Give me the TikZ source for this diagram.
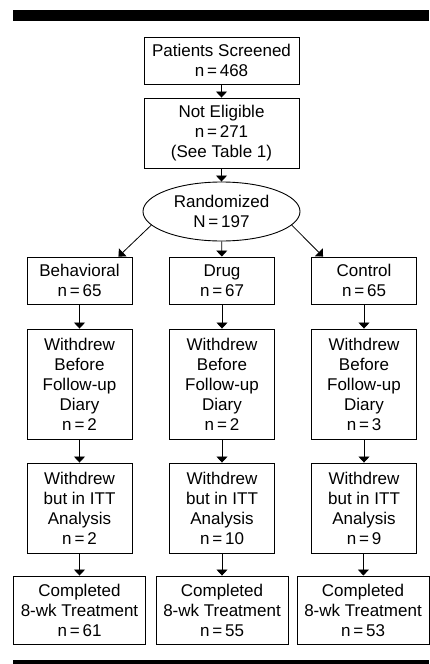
\documentclass[tikz,border=0pt]{standalone}
\usepackage{fontspec}
\setmainfont{Liberation Sans}
\usepackage{tikz}
\usetikzlibrary{shapes.geometric}
\usetikzlibrary{arrows.meta}

\begin{document}
\begin{tikzpicture}[x=1pt,y=-1pt,>={Triangle[length=6pt,width=11pt]},line width=0.9pt,
	box/.style={rectangle,draw,align=center,inner sep=0pt,font=\fontsize{17}{20}\selectfont},
	arm box/.style={box,minimum width=105},
	oval/.style={ellipse,draw,align=center,inner sep=0pt,font=\fontsize{17}{20}\selectfont}]
	
	\useasboundingbox (0,0) rectangle (429,664);
	\fill (13,10) rectangle (429,21);
	\fill (13,660) rectangle (429,664);
	
	\node[box,minimum width=155,minimum height=47] (scr) at (221.5,60.5) {Patients Screened\\n\,=\,468};
	\node[box,minimum width=155,minimum height=70] (inel) at (221.5,133) {Not Eligible\\n\,=\,271\\(See Table 1)};
	\node[oval,minimum width=157,minimum height=59] (rand) at (221.5,211.5) {Randomized\\N\,=\,197};
	
	\node[arm box,minimum height=47] (beh) at (79.5,280.5) {Behavioral\\n\,=\,65};
	\node[arm box,minimum height=47] (drug) at (222,280.5) {Drug\\n\,=\,67};
	\node[arm box,minimum height=47] (ctl) at (364,280.5) {Control\\n\,=\,65};
	
	\node[arm box,minimum height=110] (wb1) at (79.5,384) {Withdrew\\Before\\Follow-up\\Diary\\n\,=\,2};
	\node[arm box,minimum height=110] (wb2) at (222,384) {Withdrew\\Before\\Follow-up\\Diary\\n\,=\,2};
	\node[arm box,minimum height=110] (wb3) at (364,384) {Withdrew\\Before\\Follow-up\\Diary\\n\,=\,3};
	
	\node[arm box,minimum height=90] (itt1) at (79.5,508) {Withdrew\\but in ITT\\Analysis\\n\,=\,2};
	\node[arm box,minimum height=90] (itt2) at (222,508) {Withdrew\\but in ITT\\Analysis\\n\,=\,10};
	\node[arm box,minimum height=90] (itt3) at (364,508) {Withdrew\\but in ITT\\Analysis\\n\,=\,9};
	
	\node[box,minimum width=132,minimum height=68] (done1) at (79.5,610) {Completed\\8-wk Treatment\\n\,=\,61};
	\node[box,minimum width=132,minimum height=68] (done2) at (222,610) {Completed\\8-wk Treatment\\n\,=\,55};
	\node[box,minimum width=132,minimum height=68] (done3) at (363,610) {Completed\\8-wk Treatment\\n\,=\,53};
	
	\path[->,line width=0.8pt]
	(scr) edge (inel)
	(inel) edge (rand)
	(rand.191) edge ([xshift=-14pt]beh.north east)
	(rand) edge (drug)
	(rand.349) edge ([xshift=12pt]ctl.north west)
	(beh) edge (wb1)
	(drug) edge (wb2)
	(ctl) edge (wb3)
	(wb1) edge (itt1)
	(wb2) edge (itt2)
	(wb3) edge (itt3)
	(itt1) edge (done1)
	(itt2) edge (done2)
	(itt3) edge (done3);
\end{tikzpicture}
\end{document}
